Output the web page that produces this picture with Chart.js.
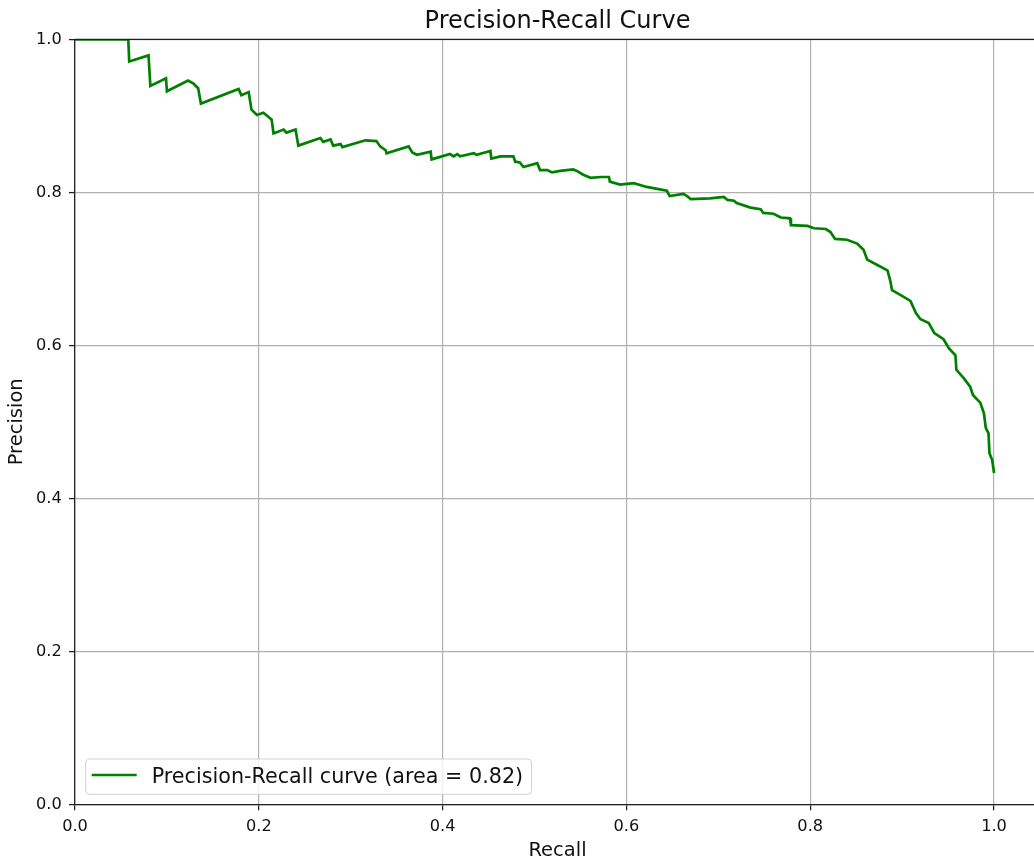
<!DOCTYPE html>
<html>
<head>
<meta charset="utf-8">
<script src="https://cdn.jsdelivr.net/npm/chart.js@4"></script>
<style>
  html, body { margin: 0; padding: 0; background: #fff; overflow: hidden; }
  canvas { display: block; }
</style>
</head>
<body>
<canvas id="prChart" width="1041" height="866"></canvas>
<script>
// values
const recall = [
  0.000, 0.058, 0.059, 0.080, 0.082, 0.099, 0.100, 0.123, 0.129, 0.134,
  0.137, 0.178, 0.181, 0.189, 0.192, 0.198, 0.205, 0.210, 0.214, 0.216,
  0.227, 0.230, 0.240, 0.243, 0.267, 0.270, 0.278, 0.281, 0.289, 0.291,
  0.316, 0.328, 0.332, 0.338, 0.339, 0.363, 0.367, 0.372, 0.387, 0.388,
  0.408, 0.412, 0.416, 0.419, 0.434, 0.437, 0.452, 0.453, 0.463, 0.477,
  0.479, 0.484, 0.488, 0.503, 0.506, 0.514, 0.519, 0.528, 0.542, 0.546,
  0.553, 0.561, 0.572, 0.581, 0.582, 0.593, 0.608, 0.622, 0.644, 0.647,
  0.662, 0.666, 0.670, 0.691, 0.706, 0.710, 0.717, 0.720, 0.735, 0.746,
  0.749, 0.760, 0.768, 0.778, 0.779, 0.797, 0.804, 0.817, 0.822, 0.827,
  0.840, 0.851, 0.858, 0.862, 0.873, 0.884, 0.887, 0.889, 0.898, 0.909,
  0.915, 0.920, 0.929, 0.935, 0.945, 0.951, 0.958, 0.959, 0.967, 0.974,
  0.977, 0.985, 0.989, 0.991, 0.994, 0.995, 0.998, 1.000
];
const precision = [
  1.000, 1.000, 0.971, 0.979, 0.939, 0.949, 0.932, 0.946, 0.942, 0.936,
  0.916, 0.935, 0.927, 0.931, 0.908, 0.901, 0.904, 0.899, 0.895, 0.877,
  0.882, 0.878, 0.882, 0.861, 0.871, 0.866, 0.869, 0.861, 0.863, 0.859,
  0.868, 0.867, 0.860, 0.855, 0.851, 0.860, 0.852, 0.849, 0.853, 0.843,
  0.850, 0.847, 0.850, 0.847, 0.851, 0.849, 0.854, 0.844, 0.847, 0.847,
  0.840, 0.839, 0.833, 0.838, 0.829, 0.829, 0.826, 0.828, 0.830, 0.828,
  0.823, 0.819, 0.820, 0.820, 0.814, 0.810, 0.812, 0.807, 0.802, 0.795,
  0.798, 0.795, 0.791, 0.792, 0.794, 0.790, 0.789, 0.786, 0.780, 0.778,
  0.773, 0.772, 0.767, 0.766, 0.757, 0.756, 0.753, 0.752, 0.748, 0.739,
  0.738, 0.733, 0.725, 0.712, 0.705, 0.698, 0.685, 0.672, 0.666, 0.658,
  0.642, 0.634, 0.629, 0.616, 0.608, 0.596, 0.587, 0.568, 0.557, 0.546,
  0.535, 0.525, 0.511, 0.492, 0.485, 0.459, 0.450, 0.433
];
const areaValue = 0.82;
const tickStep = 0.2;

Chart.defaults.font.family = "'DejaVu Sans', sans-serif";
Chart.defaults.color = '#111';

const points = recall.map((r, i) => ({ x: r, y: precision[i] }));

// top and right spines, like matplotlib's box
const frame = {
  id: 'frame',
  afterDatasetsDraw(chart) {
    const { ctx, chartArea: a } = chart;
    ctx.save();
    ctx.strokeStyle = '#222';
    ctx.lineWidth = 1.3;
    ctx.beginPath();
    ctx.moveTo(a.left, a.top);
    ctx.lineTo(a.right, a.top);
    ctx.lineTo(a.right, a.bottom);
    ctx.stroke();
    ctx.restore();
  }
};

// legend box inside the lower left corner of the plot
const innerLegend = {
  id: 'innerLegend',
  afterDraw(chart) {
    const { ctx, chartArea: a } = chart;
    const ds = chart.data.datasets[0];
    ctx.save();
    ctx.font = "20.7px 'DejaVu Sans'";
    const tw = ctx.measureText(ds.label).width;
    const x = a.left + 10.7, y = a.bottom - 45.3;
    const w = 66 + tw + 8.5, h = 35.3;
    ctx.beginPath();
    ctx.roundRect(x, y, w, h, 4);
    ctx.fillStyle = 'rgba(255,255,255,0.8)';
    ctx.fill();
    ctx.strokeStyle = '#d0d0d0';
    ctx.lineWidth = 1;
    ctx.stroke();
    ctx.beginPath();
    ctx.moveTo(x + 6, y + 16);
    ctx.lineTo(x + 51, y + 16);
    ctx.strokeStyle = ds.borderColor;
    ctx.lineWidth = ds.borderWidth;
    ctx.stroke();
    ctx.fillStyle = '#111';
    ctx.textBaseline = 'alphabetic';
    ctx.fillText(ds.label, x + 66, y + 24.3);
    ctx.restore();
  }
};

new Chart(document.getElementById('prChart'), {
  type: 'line',
  data: {
    datasets: [{
      label: 'Precision-Recall curve (area = ' + areaValue.toFixed(2) + ')',
      data: points,
      borderColor: '#008000',
      borderWidth: 2.7,
      pointRadius: 0,
      tension: 0,
      fill: false
    }]
  },
  options: {
    responsive: false,
    animation: false,
    devicePixelRatio: 1,
    layout: { padding: { left: 0, right: 1, top: 0, bottom: 0 } },
    plugins: {
      legend: { display: false },
      tooltip: { enabled: false },
      title: {
        display: true,
        text: 'Precision-Recall Curve',
        fullSize: false,
        color: '#111',
        font: { size: 24, weight: 'normal' },
        padding: { top: 7.2, bottom: 3.3 }
      }
    },
    scales: {
      x: {
        type: 'linear',
        min: 0,
        max: 1.05,
        afterFit: s => { s.height = 61.7; },
        title: {
          display: true,
          text: 'Recall',
          color: '#111',
          font: { size: 19.5 },
          padding: { top: 0, bottom: 3.8 }
        },
        ticks: {
          stepSize: tickStep,
          includeBounds: false,
          padding: 6.3,
          maxRotation: 0,
          color: '#111',
          font: { size: 16.2 },
          callback: v => v.toFixed(1)
        },
        grid: { color: '#b0b0b0', lineWidth: 1.2, tickColor: '#222', tickWidth: 1.3, tickLength: 6 },
        border: { display: true, color: '#222', width: 1.3 }
      },
      y: {
        min: 0,
        max: 1.0,
        afterFit: s => { s.width = 75; },
        title: {
          display: true,
          text: 'Precision',
          color: '#111',
          font: { size: 19.5 },
          padding: { top: 4.8, bottom: 0 }
        },
        ticks: {
          stepSize: tickStep,
          padding: 7.3,
          color: '#111',
          font: { size: 16.2 },
          callback: v => v.toFixed(1)
        },
        grid: { color: '#b0b0b0', lineWidth: 1.2, tickColor: '#222', tickWidth: 1.3, tickLength: 6 },
        border: { display: true, color: '#222', width: 1.3 }
      }
    }
  },
  plugins: [frame, innerLegend]
});
</script>
</body>
</html>
